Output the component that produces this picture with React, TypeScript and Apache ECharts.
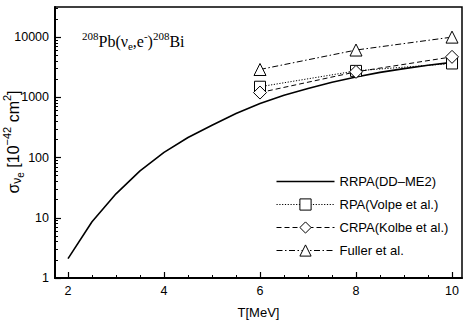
import React, { useEffect, useRef } from 'react';
import * as echarts from 'echarts';

const curveT = [2, 2.5, 3, 3.5, 4, 4.5, 5, 5.5, 6, 6.5, 7, 7.5, 8, 8.5, 9, 9.5, 10];
const rrpa = [2.1, 8.6, 25, 60, 122, 215, 345, 540, 790, 1080, 1400, 1780, 2180, 2600, 3000, 3400, 3800];
const pointT = [6, 8, 10];
const volpe = [1500, 2750, 3650];
const kolbe = [1200, 2650, 4700];
const fuller = [2900, 6100, 10000];
const xMajor = [2, 4, 6, 8, 10];
const xMinor = [2.5, 3, 3.5, 4.5, 5, 5.5, 6.5, 7, 7.5, 8.5, 9, 9.5];
const yMajor = [1, 10, 100, 1000, 10000];
const yMinor = [2, 3, 4, 5, 6, 7, 8, 9, 20, 30, 40, 50, 60, 70, 80, 90, 200, 300, 400, 500, 600, 700, 800, 900,
  2000, 3000, 4000, 5000, 6000, 7000, 8000, 9000, 20000, 30000];
const names = ['RRPA(DD–ME2)', 'RPA(Volpe et al.)', 'CRPA(Kolbe et al.)', 'Fuller et al.'];

const SANS = '"Liberation Sans", Arial, Helvetica, sans-serif';
const SERIF = '"Liberation Serif", "Times New Roman", serif';
const X_MIN = 1.729;
const X_MAX = 10.208;
const Y_MIN = 1;
const Y_MAX = 31623;

export default function App() {
  const ref = useRef<HTMLDivElement>(null);
  useEffect(() => {
    if (!ref.current) return;
    const chart = echarts.init(ref.current, null, { renderer: 'svg' });
    const pts = (vals: number[]) => pointT.map((t, i) => [t, vals[i]]);
    const lineCommon = { color: '#000', width: 1 };
    const itemCommon = { color: '#fff', borderColor: '#000', borderWidth: 1 };
    chart.setOption({
      animation: false,
      backgroundColor: '#fff',
      grid: { left: 55, right: 10, top: 7, bottom: 56, show: true, borderColor: '#000', borderWidth: 1.5, backgroundColor: 'transparent' },
      xAxis: [
        {
          type: 'value', min: X_MIN, max: X_MAX, position: 'bottom',
          name: 'T[MeV]', nameLocation: 'middle', nameGap: 28,
          nameTextStyle: { fontFamily: SANS, fontSize: 13, color: '#000' },
          axisLine: { show: true, lineStyle: { color: '#000', width: 2 } },
          axisTick: { show: true, inside: true, length: 6, customValues: xMajor, lineStyle: { color: '#000', width: 1.2 } },
          axisLabel: { show: true, customValues: xMajor, margin: 6, fontFamily: SANS, fontSize: 12.5, color: '#000' },
          splitLine: { show: false },
        },
        {
          type: 'value', min: X_MIN, max: X_MAX, position: 'bottom', offset: 0,
          axisLine: { show: false },
          axisTick: { show: true, inside: true, length: 3, customValues: xMinor, lineStyle: { color: '#000', width: 1 } },
          axisLabel: { show: false },
          splitLine: { show: false },
        },
      ],
      yAxis: [
        {
          type: 'log', logBase: 10, min: Y_MIN, max: Y_MAX, position: 'left',
          axisLine: { show: true, lineStyle: { color: '#000', width: 2 } },
          axisTick: { show: true, inside: true, length: 6, customValues: yMajor, lineStyle: { color: '#000', width: 1.2 } },
          axisLabel: { show: true, customValues: yMajor, margin: 6, fontFamily: SANS, fontSize: 12.5, color: '#000', formatter: (v: number) => String(Math.round(v)) },
          splitLine: { show: false },
        },
        {
          type: 'log', logBase: 10, min: Y_MIN, max: Y_MAX, position: 'left', offset: 0,
          axisLine: { show: false },
          axisTick: { show: true, inside: true, length: 3, customValues: yMinor, lineStyle: { color: '#000', width: 1 } },
          axisLabel: { show: false },
          splitLine: { show: false },
        },
      ],
      legend: {
        orient: 'vertical', left: 271, top: 170,
        itemWidth: 58, itemHeight: 14, itemGap: 10,
        textStyle: { fontFamily: SANS, fontSize: 13, color: '#000' },
        lineStyle: { width: 1 },
        itemStyle: { borderWidth: 1 },
        data: [
          { name: names[0], icon: 'path://M0,0L58,0L58,1.6L0,1.6Z', itemStyle: { color: '#000', borderWidth: 0 } },
          names[1], names[2], names[3],
        ],
      },
      series: [
        {
          name: names[0], type: 'line', data: curveT.map((t, i) => [t, rrpa[i]]),
          symbol: 'none', lineStyle: { color: '#000', width: 1.6 }, itemStyle: { color: '#000' },
        },
        {
          name: names[1], type: 'line', data: pts(volpe), symbol: 'rect', symbolSize: 11,
          lineStyle: { ...lineCommon, type: [1.2, 1.6] }, itemStyle: itemCommon,
        },
        {
          name: names[2], type: 'line', data: pts(kolbe), symbol: 'diamond', symbolSize: 13,
          lineStyle: { ...lineCommon, type: [5, 3] }, itemStyle: itemCommon,
        },
        {
          name: names[3], type: 'line', data: pts(fuller), symbol: 'triangle', symbolSize: 12,
          lineStyle: { ...lineCommon, type: [6, 2.5, 1.5, 2.5] }, itemStyle: itemCommon,
        },
      ],
      graphic: [
        {
          type: 'text', x: 82, y: 30,
          style: {
            text: '{sup|208}{b|Pb(ν}{sub|e}{b|,e}{sup|-}{b|)}{sup|208}{b|Bi}',
            fill: '#000',
            rich: {
              b: { fontFamily: SERIF, fontSize: 16, verticalAlign: 'top', padding: [3, 0, 0, 0], fill: '#000' },
              sup: { fontFamily: SERIF, fontSize: 11, verticalAlign: 'top', padding: [0, 0, 0, 0], fill: '#000' },
              sub: { fontFamily: SERIF, fontSize: 11, verticalAlign: 'top', padding: [10, 0, 0, 0], fill: '#000' },
            },
          },
        },
        {
          type: 'text', x: 13, y: 142, rotation: Math.PI / 2,
          style: {
            text: '{s|σ}{nu|ν}{e|e}{b| [10}{sup|−42}{b| cm}{sup|2}{b|]}',
            align: 'center', verticalAlign: 'middle', fill: '#000',
            rich: {
              s: { fontFamily: SANS, fontSize: 16, verticalAlign: 'top', padding: [4, 0, 0, 0], fill: '#000' },
              b: { fontFamily: SANS, fontSize: 16, verticalAlign: 'top', padding: [4, 0, 0, 0], fill: '#000' },
              sup: { fontFamily: SANS, fontSize: 11, verticalAlign: 'top', padding: [0, 0, 0, 0], fill: '#000' },
              nu: { fontFamily: SANS, fontSize: 12, verticalAlign: 'top', padding: [10, 0, 0, 0], fill: '#000' },
              e: { fontFamily: SANS, fontSize: 10, verticalAlign: 'top', padding: [14, 0, 0, 0], fill: '#000' },
            },
          },
        },
      ],
    });
    return () => chart.dispose();
  }, []);
  return <div ref={ref} style={{ width: 472, height: 334, position: 'absolute', left: 0, top: 0 }} />;
}
